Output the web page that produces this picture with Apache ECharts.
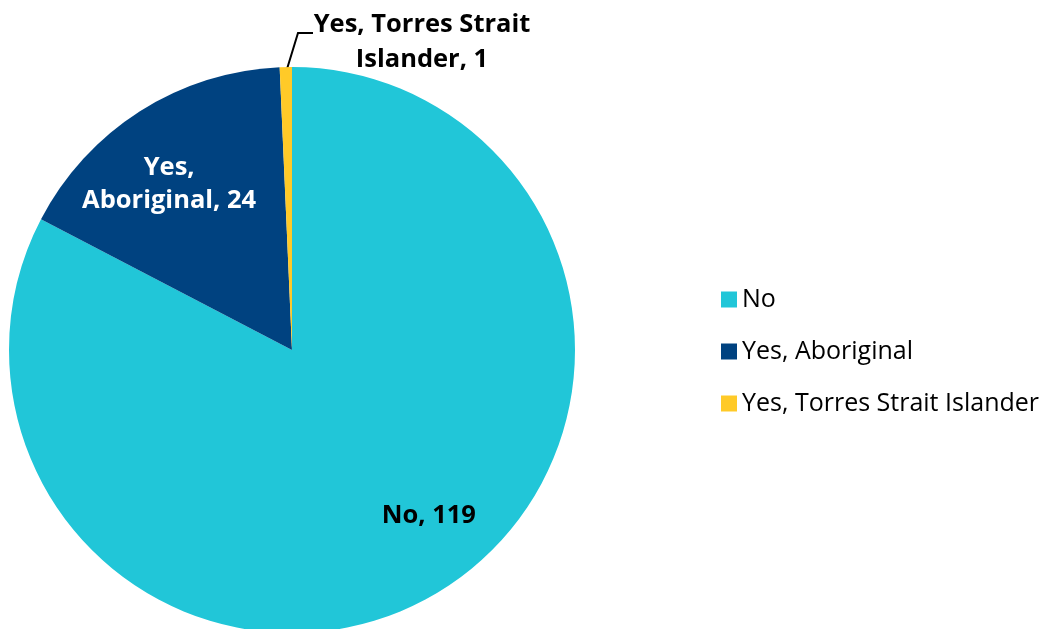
<!DOCTYPE html>
<html><head><meta charset="utf-8">
<script src="https://cdn.jsdelivr.net/npm/echarts@6/dist/echarts.min.js"></script>
<style>html,body{margin:0;padding:0;background:#fff}#c{width:1046px;height:629px}</style>
</head><body><div id="c"></div>
<script>
const categories = ['No', 'Yes, Aboriginal', 'Yes, Torres Strait Islander'];
const values = [119, 24, 1];
const labelTexts = ['No, 119', 'Yes,\nAboriginal, 24', 'Yes, Torres Strait\nIslander, 1'];
const colors = ['#21C6D8', '#004280', '#FFCA28'];

const FONT = '"Open Sans", "Noto Sans", sans-serif';
const CX = 292, CY = 350, R = 283;
// label placement: [radius fraction, angle (deg clockwise from top)]
const labelPolar = [[0.76, 140.5], [0.73, 323.5]];

const chart = echarts.init(document.getElementById('c'));
chart.setOption({
  animation: false,
  color: colors,
  legend: {
    orient: 'vertical', left: 716, top: 282,
    itemWidth: 16, itemHeight: 16, itemGap: 27,
    icon: 'rect',
    textStyle: { fontFamily: FONT, fontSize: 25, color: '#000' },
    data: categories
  },
  series: [{
    type: 'pie', center: [CX, CY], radius: [0, R],
    startAngle: 90, clockwise: true,
    itemStyle: { borderWidth: 0 },
    label: { fontFamily: FONT, fontWeight: 'bold', fontSize: 25.5 },
    labelLine: { show: false },
    data: categories.map((c, i) => ({
      name: c, value: values[i],
      label: i === 2 ? {
        show: true, position: 'outside', formatter: labelTexts[i],
        color: '#000', lineHeight: 35, align: 'center'
      } : {
        show: true, position: 'inside', formatter: labelTexts[i],
        color: i === 0 ? '#000' : '#fff', lineHeight: 33, align: 'center'
      },
      labelLine: i === 2 ? { show: true, lineStyle: { color: '#000', width: 2 } } : { show: false }
    })),
    labelLayout: function (p) {
      const i = p.dataIndex;
      if (i < 2) {
        const a = labelPolar[i][1] * Math.PI / 180;
        const r = labelPolar[i][0] * R;
        return { x: CX + r * Math.sin(a), y: CY - r * Math.cos(a), align: 'center', verticalAlign: 'middle' };
      }
      return {
        x: 422, y: 42, align: 'center', verticalAlign: 'middle',
        labelLinePoints: [[287, 69], [298, 33], [313, 33]]
      };
    }
  }]
});
</script></body></html>
